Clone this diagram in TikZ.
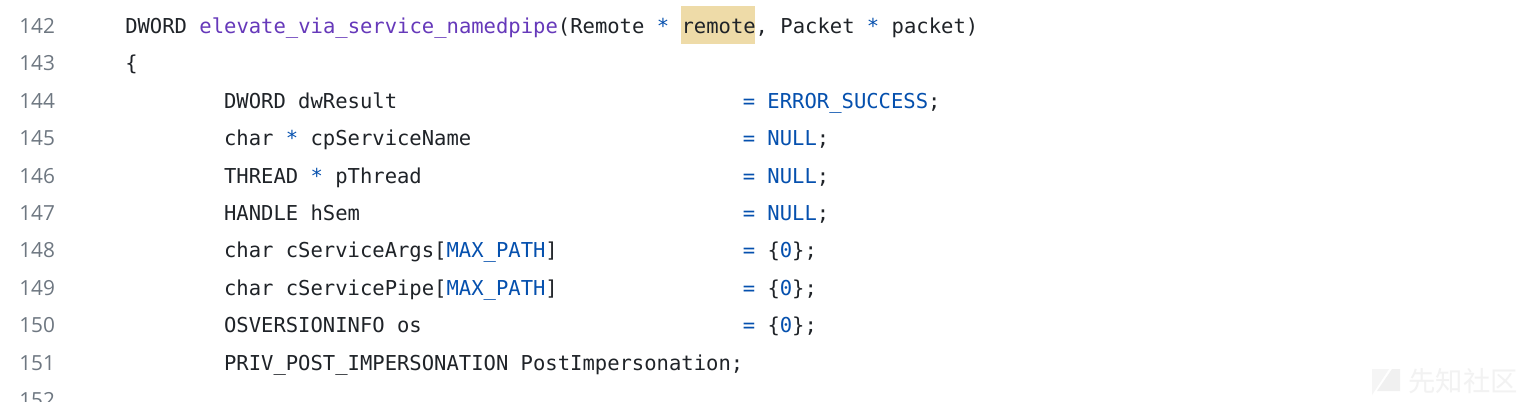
\documentclass[tikz,border=0pt]{standalone}
\usepackage{fontspec}
\setmonofont{DejaVu Sans Mono}
\newfontfamily\numfont{Open Sans}
\newfontfamily\cjk{Noto Sans CJK SC}
\usepackage{tikz}
\definecolor{codetext}{HTML}{1F2328}
\definecolor{codeblue}{HTML}{0550AE}
\definecolor{codepurple}{HTML}{6639BA}
\definecolor{numgray}{HTML}{6E7781}
\definecolor{hlyellow}{RGB}{238,219,168}
\newcommand{\bl}[1]{\textcolor{codeblue}{#1}}
\newcommand{\fn}[1]{\textcolor{codepurple}{#1}}
\tikzset{
  code/.style={anchor=base west, inner sep=0pt, text=codetext, font=\ttfamily\fontsize{15.4}{18}\selectfont},
  lnum/.style={anchor=base west, inner sep=0pt, text=numgray, font=\numfont\fontsize{15.6}{18}\selectfont},
}

\begin{document}
\begin{tikzpicture}[x=0.75pt,y=-0.75pt]
				\fill[white] (0,0) rectangle (1535,401);
				\useasboundingbox (0,0) rectangle (1535,401);
				\clip (0,0) rectangle (1535,401);
				
				% line numbers
				\foreach \n [count=\i from 0] in {142,...,152}
					\node[lnum] (ln\n) at (19,33.5+37.4*\i) {\n};
				
				% highlight of the parameter
				\fill[hlyellow] (680.8,6) rectangle (755,44);
				
				\node[code] (c142) at (125,33.5) {DWORD \fn{elevate\_via\_service\_namedpipe}(Remote \bl{*} remote, Packet \bl{*} packet)};
				\node[code] (c143) at (125,70.9) {\{};
				
				\node[code] (c144) at (223.8,108.3) {DWORD dwResult};
				\node[code] (c145) at (223.8,145.7) {char \bl{*} cpServiceName};
				\node[code] (c146) at (223.8,183.1) {THREAD \bl{*} pThread};
				\node[code] (c147) at (223.8,220.5) {HANDLE hSem};
				\node[code] (c148) at (223.8,257.9) {char cServiceArgs[\bl{MAX\_PATH}]};
				\node[code] (c149) at (223.8,295.3) {char cServicePipe[\bl{MAX\_PATH}]};
				\node[code] (c150) at (223.8,332.7) {OSVERSIONINFO os};
				\node[code] (c151) at (223.8,370.1) {PRIV\_POST\_IMPERSONATION PostImpersonation;};
				
				\node[code] (e144) at (742.5,108.3) {\bl{= ERROR\_SUCCESS};};
				\node[code] (e145) at (742.5,145.7) {\bl{= NULL};};
				\node[code] (e146) at (742.5,183.1) {\bl{= NULL};};
				\node[code] (e147) at (742.5,220.5) {\bl{= NULL};};
				\node[code] (e148) at (742.5,257.9) {\bl{=} \{\bl{0}\};};
				\node[code] (e149) at (742.5,295.3) {\bl{=} \{\bl{0}\};};
				\node[code] (e150) at (742.5,332.7) {\bl{=} \{\bl{0}\};};
				
				% watermark
				\fill[black!4] (1372,369) -- (1389,369) -- (1372,395) -- cycle;
				\fill[black!6] (1392,369) -- (1400,369) -- (1400,391) -- (1377,391) -- cycle;
				\node[inner sep=0pt, text=black!5, font=\cjk\fontsize{20.5}{24}\selectfont] (mark) at (1463,381) {先知社区};
\end{tikzpicture}
\end{document}
